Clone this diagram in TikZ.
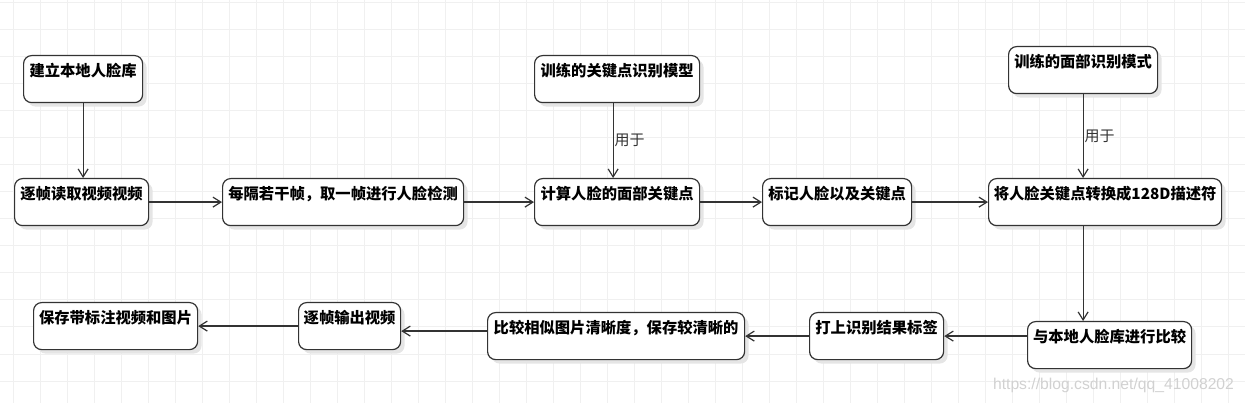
\documentclass[tikz,border=0pt]{standalone}
\usepackage{fontspec}
\setmainfont{Liberation Sans}
\newfontfamily\cjk{Noto Sans CJK SC}
\usepackage{xcolor}
\usepackage{tikz}
\usetikzlibrary{arrows.meta}
\usetikzlibrary{shadows}
\usetikzlibrary{calc}

\tikzset{
  box/.style={draw=black!80, fill=white, line width=1.2pt, rounded corners=8pt,
    inner xsep=0pt, inner ysep=0pt, text height=20.5pt, text depth=26.5pt,
    anchor=north west, font=\cjk\bfseries\fontsize{15.3}{18}\selectfont,
    drop shadow={shadow xshift=4pt, shadow yshift=-4pt, fill=black!10, opacity=1}},
  flow/.style={draw=black!80, line width=1.2pt, -{Straight Barb[length=8pt,width=10pt]}},
  usedfor/.style={midway, right, inner sep=1pt, font=\cjk\fontsize{15}{18}\selectfont, text=black!80},
  gridline/.style={draw=black!6, line width=1pt}
}

\begin{document}
\begin{tikzpicture}[x=1pt, y=-1pt]

\useasboundingbox (0,0) rectangle (1245,403);

% Draw the grid
\foreach \i in {0,...,45}
{
  \draw[gridline] (13.7+27*\i,0) -- (13.7+27*\i,403);
}
\foreach \j in {0,...,14}
{
  \draw[gridline] (0,3+27*\j) -- (1245,3+27*\j);
}

% Top row
\node[box, minimum width=119pt] (lib) at (23,55) {建立本地人脸库};
\node[box, minimum width=165pt] (kpmodel) at (534,55) {训练的关键点识别模型};
\node[box, minimum width=149pt] (facemodel) at (1008,46) {训练的面部识别模式};

% Middle row
\node[box, minimum width=134pt] (read) at (14,178) {逐帧读取视频视频};
\node[box, minimum width=241pt] (detect) at (222,178) {每隔若干帧，取一帧进行人脸检测};
\node[box, minimum width=165pt] (calc) at (534,178) {计算人脸的面部关键点};
\node[box, minimum width=149pt] (mark) at (762,178) {标记人脸以及关键点};
\node[box, minimum width=233pt] (desc) at (988,178) {将人脸关键点转换成128D描述符};

% Bottom row
\node[box, minimum width=164pt] (cmp) at (1027,321) {与本地人脸库进行比较};
\node[box, minimum width=134pt] (tag) at (809,312) {打上识别结果标签};
\node[box, minimum width=257pt] (cmpimg) at (487,312) {比较相似图片清晰度，保存较清晰的};
\node[box, minimum width=102pt] (out) at (298,302) {逐帧输出视频};
\node[box, minimum width=164pt] (save) at (33,302) {保存带标注视频和图片};

% Draw the arrows
\draw[flow] (lib.south) -- (lib.south |- read.north);
\draw[flow] (read) -- (detect);
\draw[flow] (detect) -- (calc);
\draw[flow] (calc) -- (mark);
\draw[flow] (mark) -- (desc);
\draw[flow] ([xshift=-4pt]kpmodel.south) -- ([xshift=-4pt]calc.north) node[usedfor] {用于};
\draw[flow] (facemodel.south) -- (facemodel.south |- desc.north) node[usedfor] {用于};
\draw[flow] (desc.south -| facemodel.south) -- (cmp.north -| facemodel.south);
\draw[flow] (cmp.west |- tag.east) -- (tag.east);
\draw[flow] (tag) -- (cmpimg);
\coordinate (outin) at ($(out.east)+(0,5)$);
\draw[flow] (outin -| cmpimg.west) -- (outin);
\draw[flow] (out) -- (save);

\node[text=black!18, font=\fontsize{15.7}{18}\selectfont] (mark2) at (1113.5,385) {https://blog.csdn.net/qq\_41008202};

\end{tikzpicture}
\end{document}
